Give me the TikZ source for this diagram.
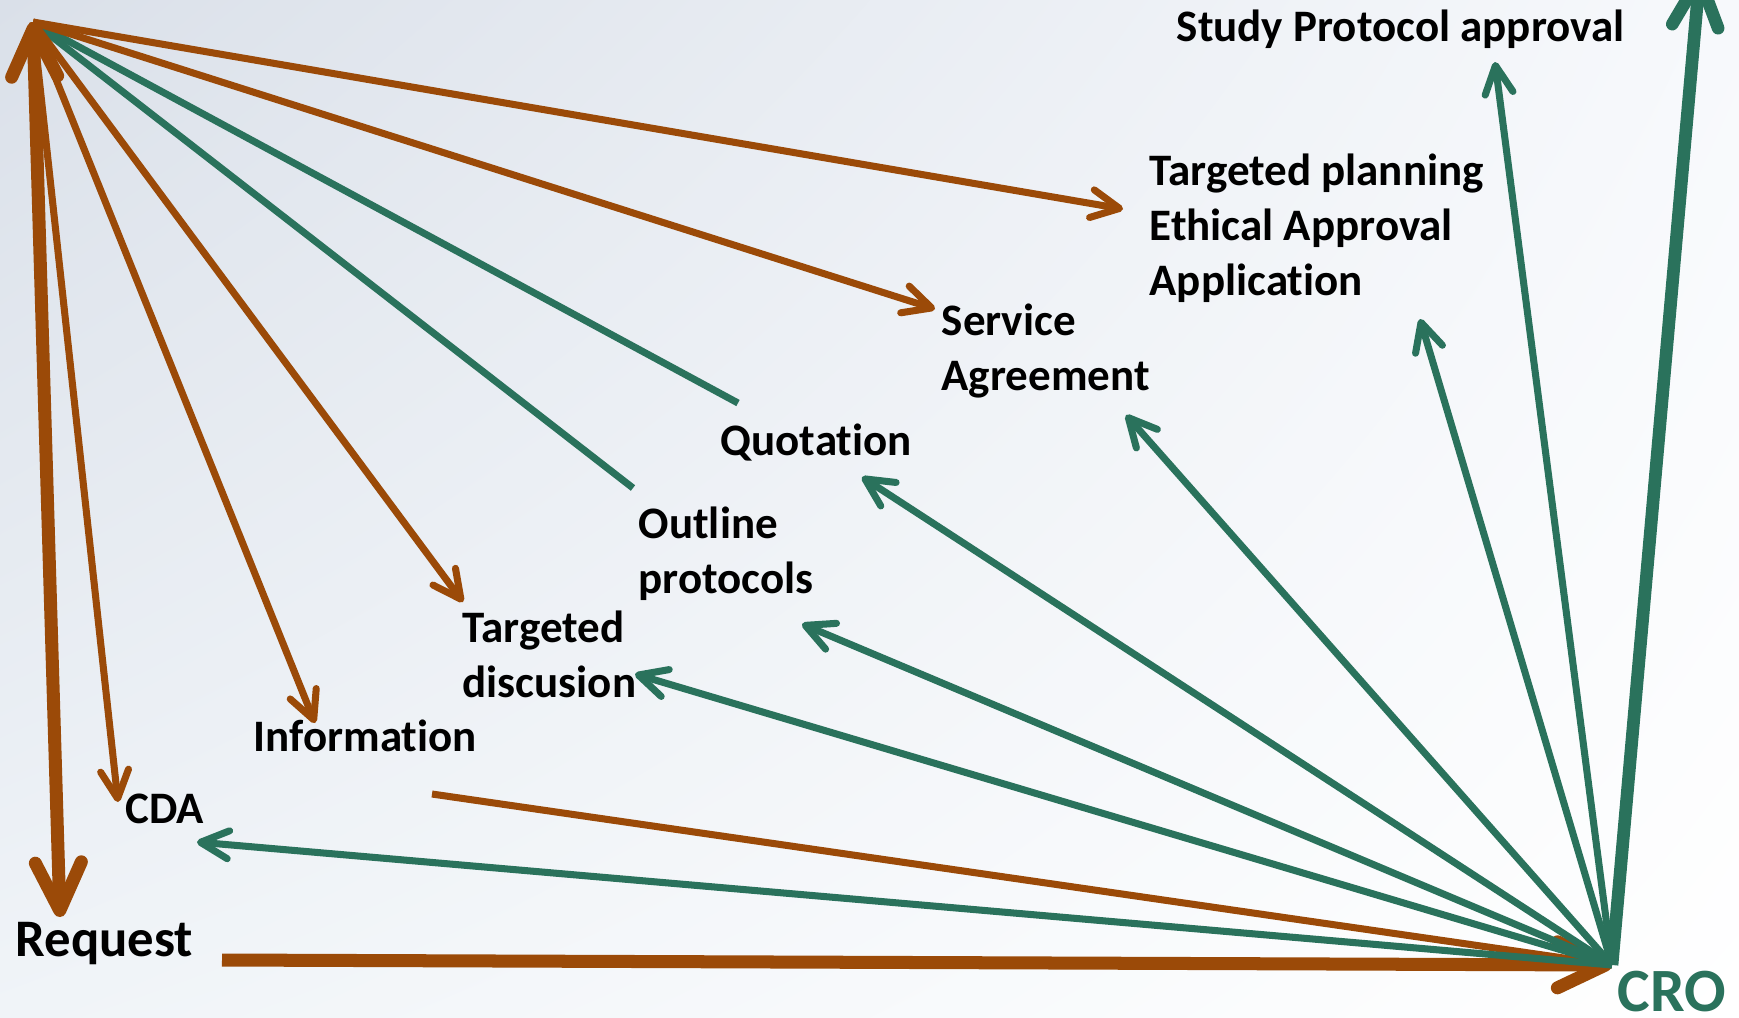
\documentclass[tikz,border=0pt]{standalone}
\usepackage{fontspec}
\setmainfont{Carlito}[Ligatures=NoCommon]
\usetikzlibrary{arrows.meta, shadings}
\definecolor{rust}{RGB}{155,74,8}
\definecolor{croGreen}{RGB}{42,114,92}
\definecolor{bgTL}{RGB}{218,224,233}
\definecolor{bgTR}{RGB}{247,249,252}
\definecolor{bgBL}{RGB}{240,244,248}
\definecolor{bgBR}{RGB}{255,255,255}
\tikzset{
    x=0.01cm, y=-0.01cm, % one unit is one pixel of the slide, y runs down
    thinhead/.tip={Straight Barb[length=2.8mm, width=2.8mm, round]},
    thickhead/.tip={Straight Barb[length=4.8mm, width=4.6mm, round]},
    txt/.style={font=\fontsize{12.8}{15.6}\selectfont\bfseries, inner sep=0pt, anchor=base west, align=left}, % base = last line
    }

\begin{document}
\begin{tikzpicture}[rustline/.style={draw=rust, line width=2pt}, greenline/.style={draw=croGreen, line width=2pt}, rustarrow/.style={rustline, -thinhead}, greenarrow/.style={greenline, -thinhead}, rustthick/.style={draw=rust, line width=3.7pt}, greenthick/.style={draw=croGreen, line width=3.6pt}]
\useasboundingbox (0,0) rectangle (1739,1017);
\clip (0,0) rectangle (1739,1017);
\shade[upper left=bgTL, upper right=bgTR, lower left=bgBL, lower right=bgBR] (0,0) rectangle (1739,1017);

\node[txt] (study) at (1176,41) {Study Protocol approval};
\node[txt] (plan) at (1149,295) {Targeted planning\\Ethical Approval\\Application};
\node[txt] (serv) at (941,390) {Service\\Agreement};
\node[txt] (quote) at (720,455) {Quotation};
\node[txt] (outl) at (638,593) {Outline\\protocols};
\node[txt] (disc) at (462,697) {Targeted\\discusion};
\node[txt] (info) at (253,751) {Information};
\node[txt] (cda) at (125,823) {CDA};
\node[txt, font=\fontsize{15}{18}\selectfont\bfseries] (req) at (15,956) {Request};
\node[txt, font=\fontsize{17.5}{21}\selectfont\bfseries, text=croGreen] (cro) at (1617,1011) {CRO};

\coordinate (apex) at (33,22);
\coordinate (hub) at ([shift={(-5,-46)}]cro.base west);
\coordinate (sky) at (1700,-28);

% lines leaving the top corner
\draw (apex) edge[greenline] ([shift={(18,-52)}]quote.base west)
(apex) edge[greenline] ([shift={(-5,-105)}]outl.base west);
\draw (apex) edge[rustarrow] ([shift={(-26,-86)}]plan.base west)
(apex) edge[rustarrow] ([shift={(-6,-81)}]serv.base west)
(apex) edge[rustarrow] ([shift={(1,-95)}]disc.base west)
(apex) edge[rustarrow] ([shift={(62,-28)}]info.base west)
(apex) edge[rustarrow] ([shift={(-7,-21)}]cda.base west)
(apex) edge[rustthick, thickhead-thickhead] ([shift={(45,-39)}]req.base west);

% lines meeting at CRO
\draw ([shift={(179,43)}]info.base west) edge[rustline] (hub)
([shift={(207,4)}]req.base west) edge[rustthick, -thickhead] (hub);
\draw (hub) edge[greenarrow] ([shift={(72,19)}]cda.base west)
(hub) edge[greenarrow] ([shift={(173,-23)}]disc.base west)
(hub) edge[greenarrow] ([shift={(164,31)}]outl.base west)
(hub) edge[greenarrow] ([shift={(142,22)}]quote.base west)
(hub) edge[greenarrow] ([shift={(185,25)}]serv.base west)
(hub) edge[greenarrow] ([shift={(271,24)}]plan.base west)
(hub) edge[greenarrow] ([shift={(319,21)}]study.base west)
(hub) edge[greenthick, -thickhead] (sky);
\end{tikzpicture}
\end{document}
